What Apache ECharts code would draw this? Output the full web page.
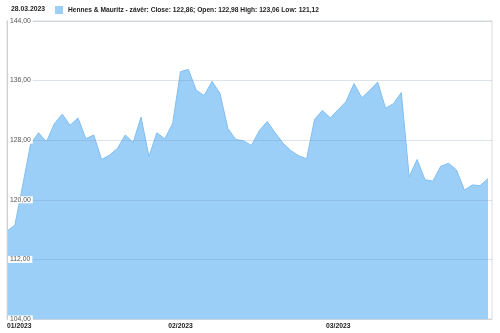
<!DOCTYPE html>
<html>
<head>
<meta charset="utf-8">
<script src="https://cdn.jsdelivr.net/npm/echarts@6/dist/echarts.min.js"></script>
<style>html,body{margin:0;padding:0;background:#fff}#c{width:500px;height:333px}</style>
</head>
<body>
<div id="c"></div>
<script>
const dates = [
'02.01.2023','03.01.2023','04.01.2023','05.01.2023','06.01.2023',
'09.01.2023','10.01.2023','11.01.2023','12.01.2023','13.01.2023',
'16.01.2023','17.01.2023','18.01.2023','19.01.2023','20.01.2023',
'23.01.2023','24.01.2023','25.01.2023','26.01.2023','27.01.2023',
'30.01.2023','31.01.2023',
'01.02.2023','02.02.2023','03.02.2023',
'06.02.2023','07.02.2023','08.02.2023','09.02.2023','10.02.2023',
'13.02.2023','14.02.2023','15.02.2023','16.02.2023','17.02.2023',
'20.02.2023','21.02.2023','22.02.2023','23.02.2023','24.02.2023',
'27.02.2023','28.02.2023',
'01.03.2023','02.03.2023','03.03.2023',
'06.03.2023','07.03.2023','08.03.2023','09.03.2023','10.03.2023',
'13.03.2023','14.03.2023','15.03.2023','16.03.2023','17.03.2023',
'20.03.2023','21.03.2023','22.03.2023','23.03.2023','24.03.2023',
'27.03.2023','28.03.2023'
];
const closes = [
115.8,116.6,122.0,127.5,129.0,127.8,130.2,131.5,130.0,131.0,
128.2,128.7,125.4,126.0,126.9,128.7,127.7,131.1,125.8,129.0,
128.2,130.2,137.2,137.5,134.7,134.0,135.9,134.3,129.6,128.1,
127.9,127.3,129.3,130.5,129.0,127.6,126.6,125.9,125.5,130.8,
132.0,131.0,132.1,133.2,135.6,133.7,134.7,135.8,132.3,132.9,
134.4,123.1,125.4,122.7,122.5,124.5,124.9,124.0,121.3,122.0,
121.9,122.86
];
const seriesName = 'Hennes & Mauritz - závěr';
const lastOpen = 122.98;
const lastHigh = 123.06;
const lastLow = 121.12;
const monthLabelIdx = [0, 22, 42];
const yTicks = [104, 112, 120, 128, 136, 144];

const fmt = v => v.toFixed(2).replace('.', ',');
const FONT = '"Liberation Sans", Arial, sans-serif';

const chart = echarts.init(document.getElementById('c'), null, {renderer: 'canvas'});
chart.setOption({
  animation: false,
  textStyle: {fontFamily: FONT},
  title: {
    text: dates[dates.length - 1],
    left: 11, top: 6, padding: 0,
    textStyle: {fontSize: 6.8, fontWeight: 'bold', color: '#222', fontFamily: FONT}
  },
  legend: {
    left: 55, top: 6, padding: 0,
    icon: 'rect', itemWidth: 8, itemHeight: 8, itemGap: 5,
    data: [seriesName],
    formatter: name => name + ': Close: ' + fmt(closes[closes.length - 1]) +
      '; Open: ' + fmt(lastOpen) + ' High: ' + fmt(lastHigh) + ' Low: ' + fmt(lastLow),
    textStyle: {fontSize: 6.65, fontWeight: 'bold', color: '#222', fontFamily: FONT}
  },
  grid: {
    left: 7, right: 8, top: 21, bottom: 14,
    show: true, borderColor: '#dcdcdc', borderWidth: 1
  },
  xAxis: {
    type: 'value',
    min: 0, max: closes.length - 0.5,
    splitLine: {show: false},
    axisLine: {show: false},
    axisTick: {show: false},
    axisLabel: {
      customValues: monthLabelIdx,
      alignMinLabel: 'left',
      fontSize: 6.8, fontWeight: 'bold', color: '#222', margin: 4,
      formatter: v => { const d = dates[Math.round(v)]; return d ? d.slice(3).replace('.', '/') : ''; }
    }
  },
  yAxis: {
    type: 'value',
    min: yTicks[0], max: yTicks[yTicks.length - 1], interval: 8,
    z: 5,
    axisLine: {show: true, lineStyle: {color: '#cfcfcf'}},
    axisTick: {show: false},
    splitLine: {lineStyle: {color: 'rgba(110,140,170,0.24)', width: 1}},
    axisLabel: {
      inside: true, margin: 1,
      fontSize: 6.8, color: '#555',
      backgroundColor: '#fff', padding: [0, 2, 0, 2],
      formatter: v => fmt(v)
    }
  },
  series: [{
    name: seriesName,
    type: 'line',
    data: closes.map((v, i) => [i, v]),
    showSymbol: false,
    symbol: 'none',
    lineStyle: {color: '#80bef2', width: 1},
    itemStyle: {color: '#9ccff8'},
    areaStyle: {color: '#9ccff8', opacity: 1, origin: 'start'}
  }]
});
</script>
</body>
</html>
